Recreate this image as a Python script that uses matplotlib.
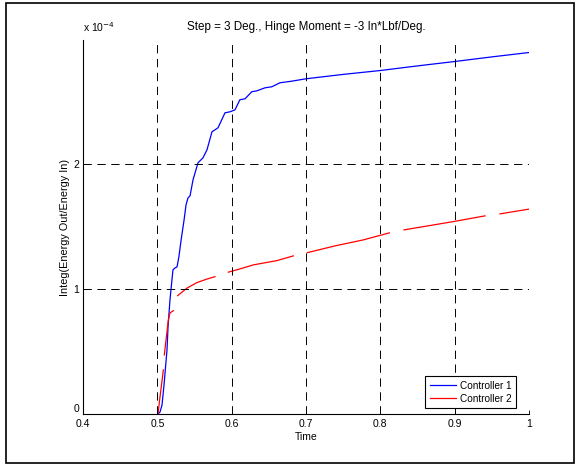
import numpy as np
import matplotlib
matplotlib.use("Agg")
import matplotlib.pyplot as plt
from matplotlib.patches import Rectangle

plt.rcParams['font.family'] = ['Liberation Sans', 'DejaVu Sans']
plt.rcParams['lines.scale_dashes'] = False

# Controller 1 (values in units of 1e-4)
t1 = [0.5009, 0.5036, 0.5063, 0.509, 0.513, 0.5144, 0.517, 0.521, 0.5238, 0.5265,
      0.529, 0.532, 0.536, 0.5386, 0.5413, 0.544, 0.548, 0.5547, 0.5614, 0.5668,
      0.5735, 0.5776, 0.5816, 0.591, 0.5978, 0.6045, 0.611, 0.618, 0.627, 0.634,
      0.645, 0.654, 0.665, 0.68, 0.70, 0.75, 0.80, 0.85, 0.90, 0.95, 1.0]
y1 = [0.0, 0.016, 0.072, 0.232, 0.512, 0.696, 0.912, 1.152, 1.168, 1.176,
      1.256, 1.392, 1.552, 1.672, 1.728, 1.744, 1.872, 2.008, 2.048, 2.112,
      2.256, 2.272, 2.288, 2.408, 2.416, 2.432, 2.512, 2.52, 2.576, 2.584,
      2.608, 2.616, 2.648, 2.66, 2.68, 2.715, 2.746, 2.783, 2.818, 2.855, 2.89]

# Controller 2 (broken trace, gaps as NaN)
nan = np.nan
t2 = [0.5009, 0.5036, 0.5059, 0.5081, nan,
      0.5094, 0.5117, 0.5148, 0.517, 0.5215, nan,
      0.5274, 0.5395, 0.553, 0.5664, 0.5776, nan,
      0.5955, 0.6112, 0.6291, 0.6606, 0.6829, nan,
      0.7018, 0.739, 0.7771, 0.8121, nan,
      0.8319, 0.898, 0.9408, nan,
      0.961, 1.0]
y2 = [0.0, 0.138, 0.245, 0.352, nan,
      0.472, 0.592, 0.752, 0.808, 0.826, nan,
      0.946, 1.005, 1.050, 1.078, 1.098, nan,
      1.134, 1.160, 1.192, 1.226, 1.264, nan,
      1.290, 1.344, 1.392, 1.448, nan,
      1.472, 1.538, 1.584, nan,
      1.600, 1.638]

xticks = [0.4, 0.5, 0.6, 0.7, 0.8, 0.9, 1.0]
xticklabels = ['0.4', '0.5', '0.6', '0.7', '0.8', '0.9', '1']
yticks = [0, 1, 2]
yticklabels = ['0', '1', '2']

fig = plt.figure(figsize=(5.81, 4.66), dpi=100)
ax = fig.add_axes([83 / 581, 52 / 466, 446 / 581, 374 / 466])

ax.plot(t1, y1, color='#0000ff', lw=0.9, label='Controller 1')
ax.plot(t2, y2, color='#ff0000', lw=0.9, label='Controller 2')

ax.set_xlim(0.4, 1.0)
ax.set_ylim(0, 2.99)
ax.set_xticks(xticks)
ax.set_xticklabels(xticklabels)
ax.set_yticks(yticks)
ax.set_yticklabels(yticklabels)
# the zero label sits a little above the corner, as in the original
ax.get_yticklabels()[0].set_va('bottom')
ax.tick_params(direction='in', length=3, width=0.6, labelsize=7.5)
ax.tick_params(axis='x', pad=3.5)
ax.tick_params(axis='y', pad=2.5)

for s in ['top', 'right']:
    ax.spines[s].set_visible(False)
for s in ['left', 'bottom']:
    ax.spines[s].set_linewidth(0.8)

ax.grid(True, color='black', lw=0.7, linestyle=(0, (6, 4)))
ax.set_axisbelow(False)

ax.set_xlabel('Time', fontsize=7.5)
ax.xaxis.set_label_coords(0.5, -0.047)
ax.set_ylabel('Integ(Energy Out/Energy In)', fontsize=7.8)
ax.yaxis.set_label_coords(-0.03, 0.5)

ax.text(0.0, 1.015, r'x 10$^{-4}$', transform=ax.transAxes, fontsize=7.5,
        ha='left', va='bottom')
fig.text(306 / 581, 1 - 27 / 466, 'Step = 3 Deg., Hinge Moment = -3 In*Lbf/Deg.',
         fontsize=8.4, ha='center', va='center')

leg = ax.legend(loc='lower right', bbox_to_anchor=(0.971, 0.016), borderaxespad=0,
                fontsize=7.2, fancybox=False, framealpha=1, edgecolor='black',
                handlelength=2.6, handletextpad=0.4, borderpad=0.45,
                labelspacing=0.3)
leg.get_frame().set_linewidth(0.8)

fig.patches.append(Rectangle((6 / 581, 3 / 466), 568 / 581, 460 / 466,
                             transform=fig.transFigure, fill=False,
                             edgecolor='black', lw=1.2))

fig.savefig('out.png', dpi=100)
